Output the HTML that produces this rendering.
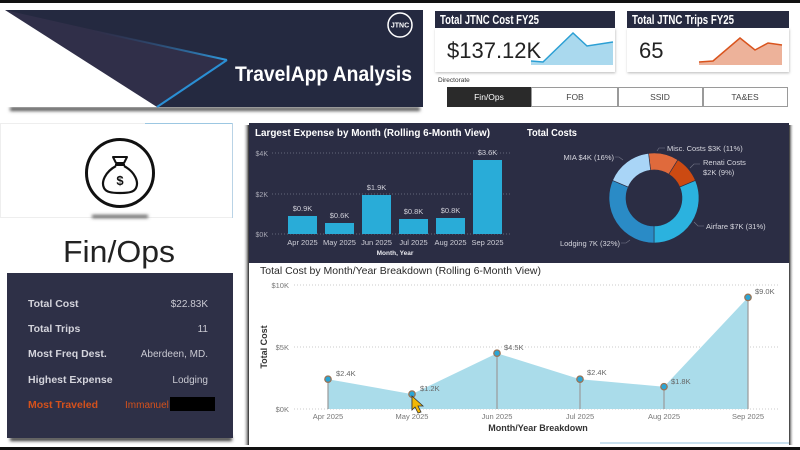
<!DOCTYPE html>
<html><head><meta charset="utf-8"><style>
html,body{margin:0;padding:0;background:#fff;width:800px;height:450px;overflow:hidden}
svg{display:block;font-family:"Liberation Sans",sans-serif}
</style></head><body>
<svg width="800" height="450" viewBox="0 0 800 450" xmlns="http://www.w3.org/2000/svg">
<defs>
<filter id="blur" x="-10%" y="-200%" width="120%" height="500%"><feGaussianBlur stdDeviation="1.6"/></filter>
<filter id="sh" x="-10%" y="-20%" width="120%" height="150%"><feDropShadow dx="0.5" dy="1.2" stdDeviation="1.2" flood-color="#000" flood-opacity="0.25"/></filter>
<linearGradient id="bl" x1="90" y1="30" x2="227" y2="60" gradientUnits="userSpaceOnUse"><stop offset="0" stop-color="#2a3a60" stop-opacity="0"/><stop offset="1" stop-color="#2f9be0"/></linearGradient>
<linearGradient id="lsh" x1="0" x2="1" y1="0" y2="0"><stop offset="0" stop-color="#fff" stop-opacity="0"/><stop offset="1" stop-color="#222"/></linearGradient>
<linearGradient id="rsh" x1="0" x2="1" y1="0" y2="0"><stop offset="0" stop-color="#222"/><stop offset="1" stop-color="#fff" stop-opacity="0"/></linearGradient>
</defs>

<!-- top/bottom black borders -->
<rect x="0" y="0" width="800" height="3" fill="#111"/>
<rect x="0" y="447" width="800" height="3" fill="#111"/>

<!-- banner -->
<rect x="10" y="107" width="410" height="4" fill="#555" filter="url(#blur)"/>
<rect x="5" y="10" width="418" height="97" fill="#242940"/>
<polygon points="5,10 227,60 157,107" fill="#302f49"/>
<polygon points="5,10 5,107 157,107" fill="#fff"/>
<polyline points="90,30 227,60" fill="none" stroke="url(#bl)" stroke-width="2"/>
<polyline points="227,60 157,107" fill="none" stroke="#2a8fd4" stroke-width="2"/>
<circle cx="400" cy="25" r="12" fill="none" stroke="#fff" stroke-width="1.5"/>
<text x="400" y="27.5" font-size="7" font-weight="bold" fill="#fff" text-anchor="middle">JTNC</text>
<text x="235" y="81" font-size="21" font-weight="bold" fill="#fff" textLength="177" lengthAdjust="spacingAndGlyphs">TravelApp Analysis</text>

<!-- KPI cards -->
<rect x="435" y="28" width="180" height="44" fill="#fff" filter="url(#sh)"/>
<rect x="435" y="11" width="180" height="17" fill="#262a40"/>
<text x="440" y="24" font-size="12.5" font-weight="bold" fill="#fff" textLength="99" lengthAdjust="spacingAndGlyphs">Total JTNC Cost FY25</text>
<text x="447" y="58" font-size="22" fill="#222">$137.12K</text>
<polygon points="531,61 543,62 573,33 587,46 613,42 613,65 531,65" fill="#aad9ee"/>
<polyline points="531,61 543,62 573,33 587,46 613,42" fill="none" stroke="#2b9fd4" stroke-width="1.5"/>

<rect x="627" y="28" width="162" height="44" fill="#fff" filter="url(#sh)"/>
<rect x="627" y="11" width="162" height="17" fill="#262a40"/>
<text x="632" y="24" font-size="12.5" font-weight="bold" fill="#fff" textLength="102" lengthAdjust="spacingAndGlyphs">Total JTNC Trips FY25</text>
<text x="639" y="58" font-size="22" fill="#222">65</text>
<polygon points="699,62 713,61 740,38 755,50 768,43 782,45 782,65 699,65" fill="#edb29a"/>
<polyline points="699,62 713,61 740,38 755,50 768,43 782,45" fill="none" stroke="#d9541e" stroke-width="1.5"/>

<text x="438" y="82" font-size="6.5" fill="#333">Directorate</text>
<rect x="447" y="87" width="84" height="20" fill="#2a2a2a"/>
<text x="489" y="100" font-size="8.5" fill="#fff" text-anchor="middle">Fin/Ops</text>
<rect x="531.5" y="87.5" width="86" height="19" fill="#fff" stroke="#9a9a9a"/>
<text x="575" y="100" font-size="8.5" fill="#444" text-anchor="middle">FOB</text>
<rect x="618.5" y="87.5" width="84" height="19" fill="#fff" stroke="#9a9a9a"/>
<text x="660" y="100" font-size="8.5" fill="#444" text-anchor="middle">SSID</text>
<rect x="703.5" y="87.5" width="84" height="19" fill="#fff" stroke="#9a9a9a"/>
<text x="745" y="100" font-size="8.5" fill="#444" text-anchor="middle">TA&amp;ES</text>

<!-- left icon card -->
<rect x="0.5" y="123.5" width="232" height="94" fill="#fff" stroke="#eeeeee"/>
<line x1="145" y1="123.5" x2="233" y2="123.5" stroke="#9cc7e2" stroke-width="1"/>
<line x1="232.5" y1="123" x2="232.5" y2="218" stroke="#b9d3e6" stroke-width="1"/>
<rect x="92" y="215" width="56" height="3" fill="#555" filter="url(#blur)"/>
<circle cx="120" cy="173" r="33.5" fill="none" stroke="#111" stroke-width="3"/>
<!-- money bag -->
<path d="M113,157 L127,157 L124,163 L116,163 Z" fill="none" stroke="#111" stroke-width="2" stroke-linejoin="round"/>
<line x1="115" y1="165" x2="125" y2="165" stroke="#111" stroke-width="2"/>
<path d="M116,166 C105,172 101,182 104,188 C106,192 111,193 120,193 C129,193 134,192 136,188 C139,182 135,172 124,166" fill="none" stroke="#111" stroke-width="2.2"/>
<text x="120" y="185" font-size="13" font-weight="bold" fill="#111" text-anchor="middle">$</text>
<text x="63" y="262" font-size="31" fill="#222" textLength="112" lengthAdjust="spacingAndGlyphs">Fin/Ops</text>

<!-- stats panel -->
<rect x="10" y="437" width="222" height="4" fill="#333" filter="url(#blur)"/>
<rect x="7" y="273" width="226" height="165" fill="#2e3047"/>
<g font-size="10.5" font-weight="bold" fill="#d4d4dc">
<text x="28" y="307">Total Cost</text>
<text x="28" y="332">Total Trips</text>
<text x="28" y="357">Most Freq Dest.</text>
<text x="28" y="383">Highest Expense</text>
<text x="28" y="408" fill="#d4511c">Most Traveled</text>
</g>
<g font-size="10" fill="#c9c9d2" text-anchor="end">
<text x="208" y="307">$22.83K</text>
<text x="208" y="332">11</text>
<text x="208" y="357">Aberdeen, MD.</text>
<text x="208" y="383">Lodging</text>
</g>
<text x="125" y="408" font-size="10" fill="#d4511c">Immanuel</text>
<rect x="170" y="397" width="45" height="14" fill="#000"/>

<!-- right panel shadows -->
<rect x="243" y="125" width="6" height="320" fill="url(#lsh)"/>
<rect x="789" y="125" width="5" height="320" fill="url(#rsh)"/>

<!-- dark chart panel -->
<rect x="249" y="123" width="540" height="140" fill="#2b2d44"/>
<text x="255" y="136" font-size="10.5" font-weight="bold" fill="#fff" textLength="235" lengthAdjust="spacingAndGlyphs">Largest Expense by Month (Rolling 6-Month View)</text>
<g font-size="7" fill="#a8a8b4" text-anchor="end">
<text x="268" y="156">$4K</text><text x="268" y="197">$2K</text><text x="268" y="237">$0K</text>
</g>
<g stroke="#777a8c" stroke-width="0.8" stroke-dasharray="1,2">
<line x1="272" y1="153" x2="512" y2="153"/><line x1="272" y1="194" x2="512" y2="194"/><line x1="272" y1="234" x2="512" y2="234"/>
</g>
<g fill="#29acd8">
<rect x="288" y="216" width="29" height="18"/>
<rect x="325" y="223" width="29" height="11"/>
<rect x="362" y="195" width="29" height="39"/>
<rect x="399" y="219" width="29" height="15"/>
<rect x="436" y="218" width="29" height="16"/>
<rect x="473" y="160" width="29" height="74"/>
</g>
<g font-size="7.5" fill="#cfcfd8" text-anchor="middle">
<text x="302.5" y="211">$0.9K</text><text x="339.5" y="218">$0.6K</text><text x="376.5" y="190">$1.9K</text>
<text x="413.5" y="214">$0.8K</text><text x="450.5" y="213">$0.8K</text><text x="487.5" y="155">$3.6K</text>
<text x="302.5" y="245">Apr 2025</text><text x="339.5" y="245">May 2025</text><text x="376.5" y="245">Jun 2025</text>
<text x="413.5" y="245">Jul 2025</text><text x="450.5" y="245">Aug 2025</text><text x="487.5" y="245">Sep 2025</text>
</g>
<text x="395" y="255" font-size="6.5" font-weight="bold" fill="#e8e8ee" text-anchor="middle">Month, Year</text>

<!-- donut -->
<text x="527" y="136" font-size="10.5" font-weight="bold" fill="#fff" textLength="50" lengthAdjust="spacingAndGlyphs">Total Costs</text>
<g stroke="#2b2d44" stroke-width="0.6">
<path d="M648.52 153.34 A45 45 0 0 1 677.85 159.84 L668.84 174.26 A28 28 0 0 0 650.59 170.21 Z" fill="#e06a3c"/>
<path d="M677.85 159.84 A45 45 0 0 1 695.42 180.42 L679.77 187.06 A28 28 0 0 0 668.84 174.26 Z" fill="#cc4a12"/>
<path d="M695.42 180.42 A45 45 0 0 1 654 243 L654 226 A28 28 0 0 0 679.77 187.06 Z" fill="#2bb2df"/>
<path d="M654 243 A45 45 0 0 1 612.58 180.42 L628.23 187.06 A28 28 0 0 0 654 226 Z" fill="#2a8bc6"/>
<path d="M612.58 180.42 A45 45 0 0 1 648.52 153.34 L650.59 170.21 A28 28 0 0 0 628.23 187.06 Z" fill="#a9d5f7"/>
</g>
<g stroke="#77798a" stroke-width="0.6" fill="none">
<polyline points="657,151 659,148 665,148"/>
<polyline points="690,168 694,164 700,164"/>
<polyline points="694,222 698,226 704,226"/>
<polyline points="630,240 626,243 621,243"/>
<polyline points="623,160 619,157 615,157"/>
</g>
<g font-size="7.5" fill="#d6d6de">
<text x="667" y="151">Misc. Costs $3K (11%)</text>
<text x="703" y="165">Renati Costs</text>
<text x="703" y="175">$2K (9%)</text>
<text x="706" y="229">Airfare $7K (31%)</text>
<text x="620" y="246" text-anchor="end">Lodging 7K (32%)</text>
<text x="614" y="160" text-anchor="end">MIA $4K (16%)</text>
</g>

<!-- line chart panel -->
<rect x="249" y="263" width="540" height="180" fill="#fff"/>
<line x1="600" y1="443" x2="789" y2="443" stroke="#a9cde3" stroke-width="1.2"/>
<text x="260" y="274" font-size="10.5" fill="#2a2a2a" textLength="281" lengthAdjust="spacingAndGlyphs">Total Cost by Month/Year Breakdown (Rolling 6-Month View)</text>
<g font-size="7.5" fill="#777" text-anchor="end">
<text x="289" y="288">$10K</text><text x="289" y="350">$5K</text><text x="289" y="412">$0K</text>
</g>
<g stroke="#bbb" stroke-width="0.8" stroke-dasharray="1,2">
<line x1="294" y1="285" x2="780" y2="285"/><line x1="294" y1="347" x2="780" y2="347"/><line x1="294" y1="409" x2="780" y2="409"/>
</g>
<text transform="translate(267,347) rotate(-90)" font-size="9" font-weight="bold" fill="#333" text-anchor="middle">Total Cost</text>
<polygon points="328,409 328,379.2 412,394.1 497,353.2 580,379.2 664,386.7 748,297.4 748,409" fill="#aadcea"/>
<g stroke="#999" stroke-width="1.2">
<line x1="328" y1="379" x2="328" y2="409"/><line x1="412" y1="394" x2="412" y2="409"/>
<line x1="497" y1="353" x2="497" y2="409"/><line x1="580" y1="379" x2="580" y2="409"/>
<line x1="664" y1="387" x2="664" y2="409"/><line x1="748" y1="297" x2="748" y2="409"/>
</g>
<g fill="#2aa6d6" stroke="#9a7456" stroke-width="1.3">
<circle cx="328" cy="379.2" r="3.2"/><circle cx="412" cy="394.1" r="3.2"/><circle cx="497" cy="353.2" r="3.2"/>
<circle cx="580" cy="379.2" r="3.2"/><circle cx="664" cy="386.7" r="3.2"/><circle cx="748" cy="297.4" r="3.2"/>
</g>
<g font-size="7.5" fill="#666">
<text x="336" y="376">$2.4K</text><text x="420" y="391">$1.2K</text><text x="504" y="350">$4.5K</text>
<text x="587" y="375">$2.4K</text><text x="671" y="384">$1.8K</text><text x="755" y="294">$9.0K</text>
</g>
<g font-size="7.5" fill="#777" text-anchor="middle">
<text x="328" y="419">Apr 2025</text><text x="412" y="419">May 2025</text><text x="497" y="419">Jun 2025</text>
<text x="580" y="419">Jul 2025</text><text x="664" y="419">Aug 2025</text><text x="748" y="419">Sep 2025</text>
</g>
<text x="538" y="431" font-size="9" font-weight="bold" fill="#333" text-anchor="middle">Month/Year Breakdown</text>
<polygon points="412,396 412,410 415,407 418,413 421,412 418,406 423,406" fill="#f2b705" stroke="#333" stroke-width="0.8"/>
</svg>
</body></html>
